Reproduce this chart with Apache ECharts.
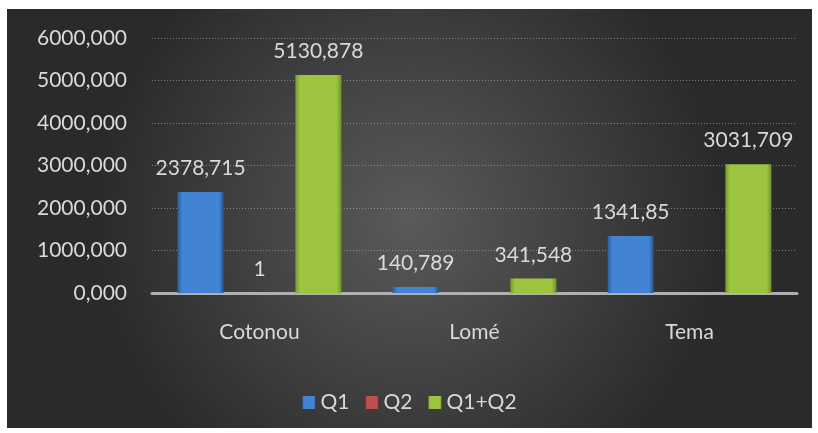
<!DOCTYPE html>
<html>
<head>
<meta charset="utf-8">
<script src="https://cdn.jsdelivr.net/npm/echarts@6/dist/echarts.min.js"></script>
<style>
  html, body { margin: 0; padding: 0; background: #fff; }
  #chart { position: absolute; left: 7px; top: 9px; width: 805px; height: 419px; }
</style>
</head>
<body>
<div id="chart"></div>
<script>
var categories = ['Cotonou', 'Lomé', 'Tema'];
var q1 = [2378.715, 140.789, 1341.85];
var q2 = [1, null, null];
var q1q2 = [5130.878, 341.548, 3031.709];
var yTicks = [0, 1000, 2000, 3000, 4000, 5000, 6000];

function fmtComma(v) {
    return String(v).replace('.', ',');
}

function barGrad(edge, mid, edge2) {
    return {
        type: 'linear', x: 0, y: 0, x2: 1, y2: 0,
        colorStops: [
            {offset: 0, color: edge},
            {offset: 0.1, color: mid},
            {offset: 0.9, color: mid},
            {offset: 1, color: edge2}
        ]
    };
}

var labelStyle = {
    show: true,
    position: 'top',
    distance: 13,
    color: '#d9d9d9',
    fontFamily: 'Lato',
    fontSize: 21,
    formatter: function (p) { return fmtComma(p.value); }
};

var chart = echarts.init(document.getElementById('chart'));

var options = {
    backgroundColor: {
        type: 'radial', x: 0.5, y: 0.5, r: 0.75,
        colorStops: [
            {offset: 0, color: '#5a5a5a'},
            {offset: 1, color: '#2a2a2a'}
        ]
    },
    textStyle: { fontFamily: 'Lato' },
    grid: { left: 145, right: 15, top: 29, bottom: 135 },
    legend: {
        data: ['Q1', 'Q2', 'Q1+Q2'],
        left: 'center',
        top: 378,
        itemWidth: 13,
        itemHeight: 13,
        itemGap: 16,
        icon: 'rect',
        textStyle: { color: '#d9d9d9', fontSize: 21, fontFamily: 'Lato' }
    },
    xAxis: {
        type: 'category',
        data: categories,
        axisTick: { show: false },
        axisLine: { lineStyle: { color: '#b0b0b0', width: 3 } },
        axisLabel: { color: '#d9d9d9', fontSize: 21, margin: 29, fontFamily: 'Lato' }
    },
    yAxis: {
        type: 'value',
        min: yTicks[0],
        max: yTicks[yTicks.length - 1],
        interval: 1000,
        axisLine: { show: false },
        axisTick: { show: false },
        axisLabel: {
            color: '#d9d9d9', fontSize: 21, margin: 25, fontFamily: 'Lato',
            formatter: function (v) { return v.toFixed(3).replace('.', ','); }
        },
        splitLine: { lineStyle: { color: 'rgba(190,190,190,0.55)', type: [1, 2], width: 1 } }
    },
    series: [
        {
            name: 'Q1', type: 'bar', data: q1,
            barWidth: 46, barGap: '28%',
            itemStyle: { color: barGrad('#2b5e9f', '#4283d3', '#26538f') },
            label: labelStyle
        },
        {
            name: 'Q2', type: 'bar', data: q2,
            barWidth: 46,
            itemStyle: { color: barGrad('#8f2f2c', '#c0504d', '#8a2b28') },
            label: labelStyle
        },
        {
            name: 'Q1+Q2', type: 'bar', data: q1q2,
            barWidth: 46,
            itemStyle: { color: barGrad('#7a9a2e', '#9cc43f', '#71902a') },
            label: labelStyle
        }
    ]
};

chart.setOption(options);
</script>
</body>
</html>
